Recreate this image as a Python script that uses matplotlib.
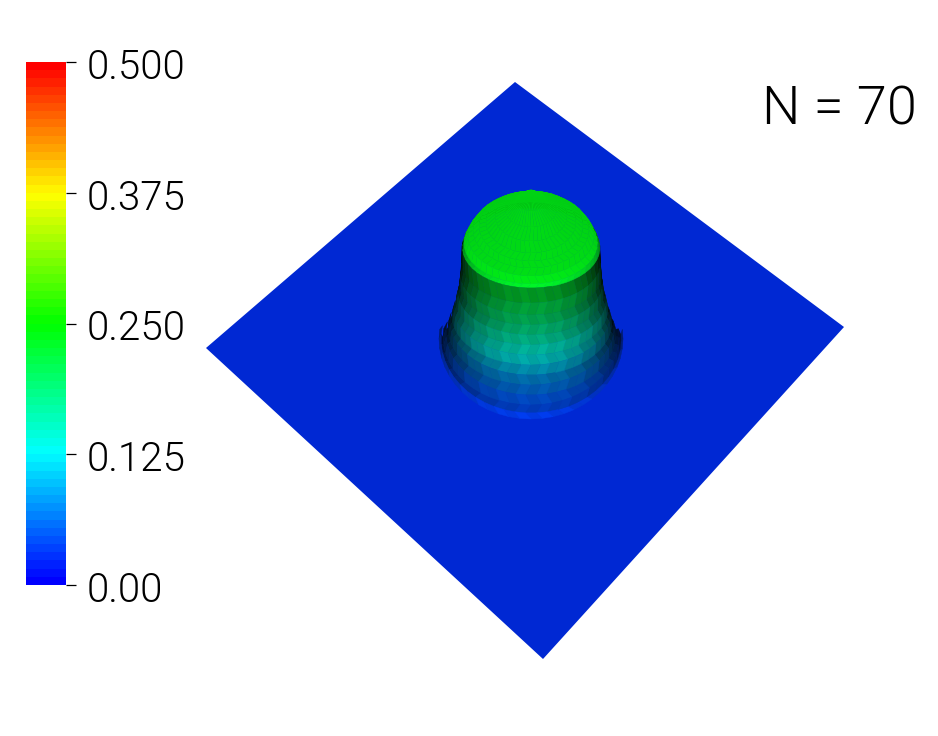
import numpy as np
import matplotlib
matplotlib.use('Agg')
import matplotlib.pyplot as plt
from matplotlib.collections import PolyCollection
from matplotlib.colors import LinearSegmentedColormap
from matplotlib.patches import Polygon

# Colour bar
bar_colors = ['#0000ff', '#00ffff', '#00ff00', '#ffff00', '#ff0000']
bar_ticks = [0.0, 0.125, 0.25, 0.375, 0.5]
bar_labels = ['0.00', '0.125', '0.250', '0.375', '0.500']
bar_bands = 64

# Plate outline (left, top, right, bottom)
plate_x = [206, 515, 844, 543]
plate_y = [348, 82, 327, 659]
plate_value = 0.03

# The bump, from the foot up to the middle of the cap
ring_radius = [92, 90, 88, 85, 83, 81, 79, 77, 75, 73, 71.5, 70.5, 69.5, 69,
               67, 63, 58, 52, 45, 36, 26, 15, 5, 0]
ring_value = [0.03, 0.034, 0.045, 0.06, 0.075, 0.095, 0.115, 0.135, 0.15, 0.168, 0.185,
              0.2, 0.215, 0.232, 0.235, 0.236, 0.2365, 0.237, 0.2375, 0.238, 0.2385, 0.239, 0.239, 0.239]
# screen centre row and half height of each ring
ring_cy = [339, 339, 337, 333, 328, 322, 316, 309, 301, 293, 284, 275, 263, 248,
           243, 236, 230, 226, 222, 216, 209, 201, 193, 191]
ring_ry = [80, 74, 68, 62, 57, 53, 49, 46, 44, 42, 41, 40, 40, 40,
           41, 40, 38, 35, 31, 25, 18, 10, 3, 0]
wall_rings = 13  # rings below the cap rim

W, H = 938, 736
CX = 531
SECTORS = 52
LIGHT = (np.sin(np.radians(34)), np.cos(np.radians(34)))
Z_SCALE = 800
FONT = 'Roboto'

cmap = LinearSegmentedColormap.from_list('rainbow_bar', bar_colors, N=bar_bands)


def value_color(value, shade):
    r, g, b, _ = cmap(value / 0.5)
    return (r * shade, g * shade, b * shade)


def bump_polys():
    polys, colors, keys = [], [], []
    step = 2 * np.pi / SECTORS
    for i in range(len(ring_radius) - 1):
        r0, r1 = ring_radius[i], ring_radius[i + 1]
        v0, v1 = ring_value[i], ring_value[i + 1]
        cy0, ry0 = ring_cy[i], ring_ry[i]
        cy1, ry1 = ring_cy[i + 1], ring_ry[i + 1]
        dr = r0 - r1
        dz = (v1 - v0) * Z_SCALE
        norm = np.hypot(dr, dz)
        # every other ring is turned half a step, that gives the diamond facets
        off0 = step / 2 * (i % 2)
        off1 = step / 2 * ((i + 1) % 2)
        for j in range(SECTORS):
            t = j * step
            a0, b0 = t + off0, t + step + off0
            a1, b1 = t + off1, t + step + off1
            mid = (a0 + b0) / 2
            # the far side of the wall is hidden in the reference
            if i < wall_rings and np.sin(mid) < -0.1:
                continue
            poly = [(CX + r0 * np.cos(a0), cy0 + ry0 * np.sin(a0)),
                    (CX + r0 * np.cos(b0), cy0 + ry0 * np.sin(b0)),
                    (CX + r1 * np.cos(b1), cy1 + ry1 * np.sin(b1)),
                    (CX + r1 * np.cos(a1), cy1 + ry1 * np.sin(a1))]
            shade = abs(dz / norm * np.sin(mid) * LIGHT[0] + dr / norm * LIGHT[1])
            if i < wall_rings:
                shade *= 1.03 if j % 2 else 0.97
            polys.append(poly)
            colors.append(value_color((v0 + v1) / 2, min(shade, 1.0)))
            keys.append((r0 + r1) / 2 * np.sin(mid))
    order = np.argsort(keys)
    return [polys[k] for k in order], [colors[k] for k in order]


fig = plt.figure(figsize=(W / 100, H / 100), dpi=100)

ax = fig.add_axes([0, 0, 1, 1])
ax.set_xlim(0, W)
ax.set_ylim(H, 0)
ax.axis('off')

ax.add_patch(Polygon(np.column_stack([plate_x, plate_y]), closed=True, lw=0,
                     facecolor=value_color(plate_value, LIGHT[1])))

polys, colors = bump_polys()
ax.add_collection(PolyCollection(polys, facecolors=colors, edgecolors=colors, linewidths=0.3))

ax.text(917, 110, 'N = 70', family=FONT, fontweight=300, fontsize=39, ha='right', va='center', color='black')

# Colour bar on its own axes so the ticks come from the value scale
cax = fig.add_axes([26 / W, 1 - 585 / H, 40 / W, 523 / H])
grad = np.linspace(0, 0.5, bar_bands + 1)
cax.pcolormesh([0, 1], grad, ((grad[:-1] + grad[1:]) / 2).reshape(-1, 1),
               cmap=cmap, vmin=0, vmax=0.5)
cax.set_ylim(0, 0.5)
cax.set_xticks([])
cax.yaxis.tick_right()
cax.set_yticks(bar_ticks)
cax.set_yticklabels([])
cax.tick_params(axis='y', length=7.5, width=0.9, colors='black')
for v, lab in zip(bar_ticks, bar_labels):
    cax.annotate(lab, xy=(1, v), xycoords=('axes fraction', 'data'), xytext=(14.5, -4),
                 textcoords='offset points', family=FONT, fontweight=300, fontsize=29, va='center', ha='left')
for s in cax.spines.values():
    s.set_visible(False)

fig.savefig('out.png', dpi=100)
